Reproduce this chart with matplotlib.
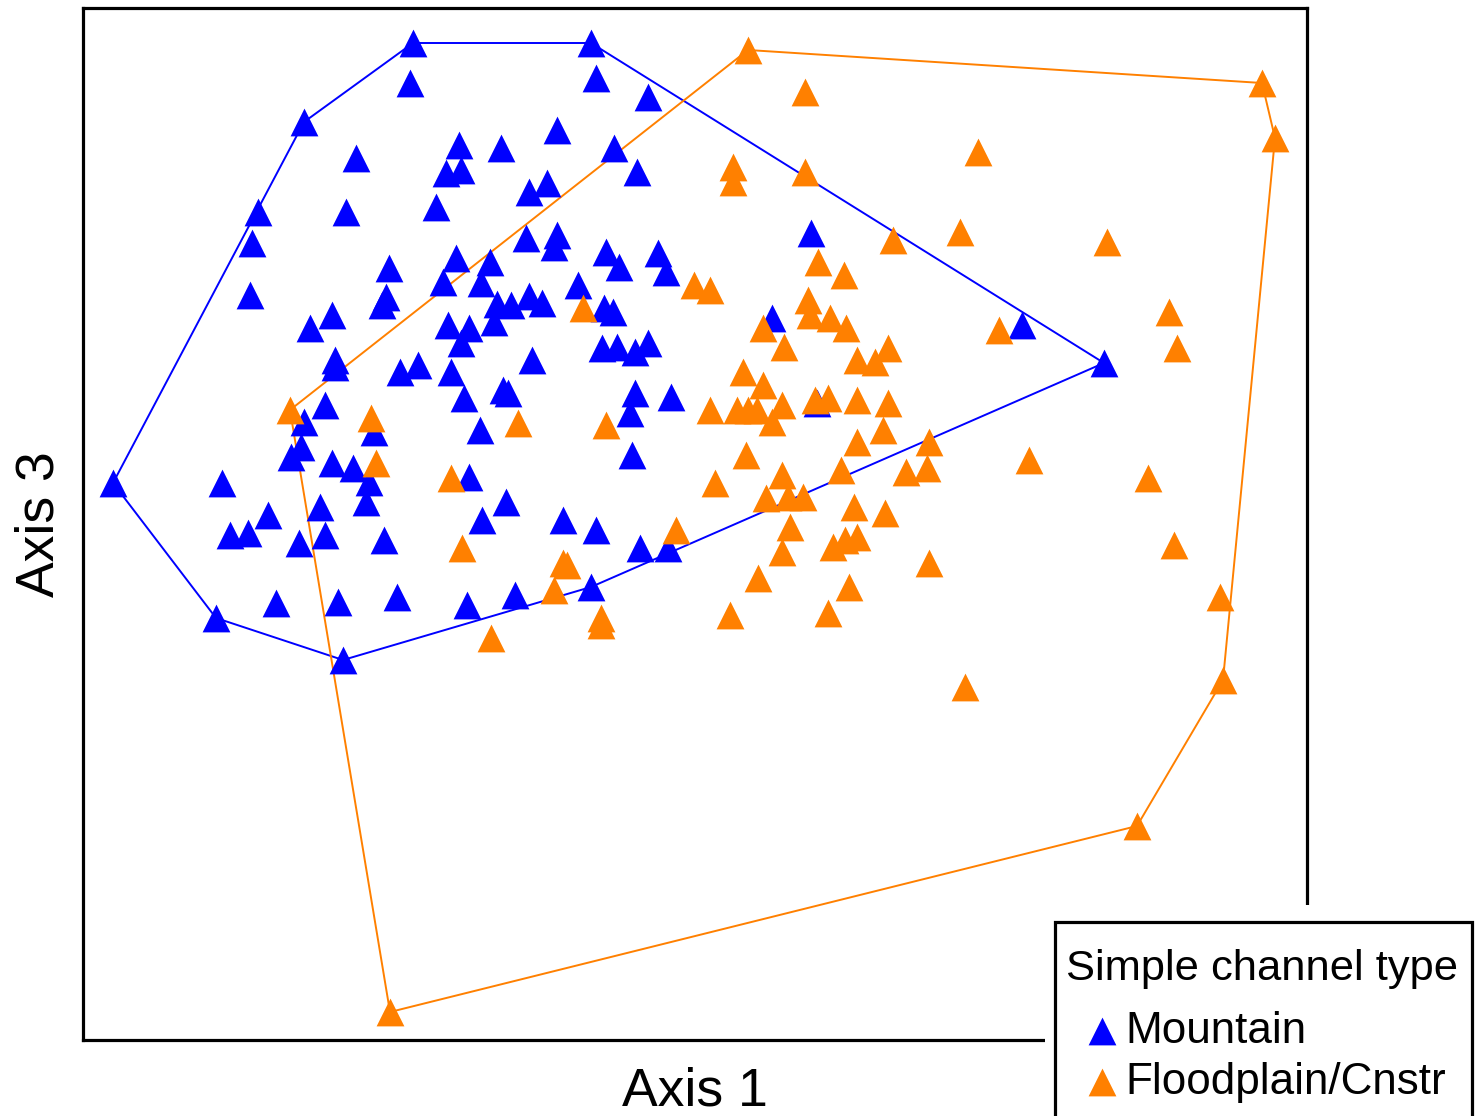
import numpy as np
import matplotlib
matplotlib.use("Agg")
import matplotlib.pyplot as plt
from matplotlib.patches import Rectangle

plt.rcParams['font.family'] = ['Liberation Sans', 'DejaVu Sans']

# ordination scores (axis 3 grows downward in these units)
mountain_ax1 = [413, 591, 410, 596, 648, 304, 557, 459, 501, 614, 356, 446, 461, 637, 529, 547,
                258, 436, 346, 252, 526, 557, 554, 811, 606, 658, 456, 490, 619, 666, 389, 443,
                481, 250, 386, 382, 578, 497, 511, 529, 542, 604, 613, 332, 310, 448, 469, 494,
                461, 772, 1022, 602, 617, 635, 648, 532, 335, 335, 400, 418, 451, 1104, 635, 671,
                503, 508, 464, 630, 325, 817, 304, 374, 480, 301, 291, 632, 332, 353, 369, 366,
                469, 113, 222, 506, 320, 268, 563, 482, 596, 230, 248, 325, 384, 299, 640, 668,
                591, 397, 338, 515, 276, 467, 216, 343]
mountain_ax3 = [43, 43, 83, 78, 97, 122, 130, 145, 148, 148, 158, 173, 170, 172, 192, 183,
                212, 207, 212, 243, 238, 235, 247, 233, 252, 253, 258, 262, 267, 272, 268, 282,
                283, 295, 297, 305, 285, 304, 305, 296, 303, 308, 312, 315, 328, 325, 328, 322,
                343, 318, 325, 348, 347, 352, 343, 360, 360, 367, 372, 365, 372, 363, 393, 397,
                390, 393, 398, 413, 405, 403, 422, 432, 430, 447, 457, 455, 463, 468, 482, 502,
                477, 483, 483, 502, 507, 515, 520, 520, 530, 535, 533, 535, 540, 543, 548, 548,
                587, 597, 602, 595, 603, 605, 618, 660]

flood_ax1 = [748, 805, 1262, 1275, 978, 733, 733, 805, 960, 1107, 893, 818, 844, 694, 710, 583,
             808, 810, 830, 846, 763, 784, 1169, 1177, 999, 857, 875, 888, 743, 763, 710, 737,
             748, 757, 772, 782, 815, 828, 857, 888, 518, 606, 371, 290, 883, 857, 746, 929,
             1029, 715, 782, 841, 906, 927, 1148, 451, 376, 766, 788, 803, 854, 885, 790, 676,
             782, 833, 845, 857, 1174, 929, 462, 563, 567, 554, 758, 849, 1220, 601, 601, 730,
             828, 491, 965, 1223, 1137, 390]
flood_ax3 = [50, 92, 83, 138, 152, 167, 182, 172, 232, 242, 240, 262, 275, 285, 290, 308,
             300, 315, 318, 328, 328, 347, 312, 348, 330, 360, 362, 348, 372, 385, 410, 410,
             410, 410, 422, 405, 400, 398, 400, 403, 423, 425, 418, 410, 430, 442, 455, 442,
             460, 483, 475, 470, 472, 468, 478, 478, 463, 498, 497, 497, 507, 513, 527, 530,
             552, 547, 540, 537, 545, 563, 548, 563, 565, 590, 578, 587, 597, 618, 625, 615,
             613, 638, 687, 680, 826, 1012]

groups = ['Mountain', 'Floodplain/Cnstr']
colors = ['#0000FF', '#FF8000']


def convex_hull(x, y):
    pts = sorted(set(zip(x, y)))

    def cross(o, a, b):
        return (a[0] - o[0]) * (b[1] - o[1]) - (a[1] - o[1]) * (b[0] - o[0])

    lower, upper = [], []
    for p in pts:
        while len(lower) >= 2 and cross(lower[-2], lower[-1], p) <= 0:
            lower.pop()
        lower.append(p)
    for p in reversed(pts):
        while len(upper) >= 2 and cross(upper[-2], upper[-1], p) <= 0:
            upper.pop()
        upper.append(p)
    hull = lower[:-1] + upper[:-1]
    hull.append(hull[0])
    return np.array(hull)


W, H = 1475, 1116
fig = plt.figure(figsize=(W / 100, H / 100), dpi=100)
ax = fig.add_axes([83 / W, 1 - 1040 / H, 1224 / W, 1032 / H])

data = [(mountain_ax1, mountain_ax3), (flood_ax1, flood_ax3)]
for (gx, gy), c in zip(data, colors):
    h = convex_hull(gx, gy)
    ax.plot(h[:, 0], h[:, 1], color=c, lw=1.4, zorder=2)

for (gx, gy), c, lab in zip(data, colors, groups):
    ax.scatter(gx, gy, marker='^', s=400, color=c, linewidths=0, label=lab, zorder=3)

ax.set_xlim(83, 1307)
ax.set_ylim(1040, 8)
ax.set_xticks([])
ax.set_yticks([])
for sp in ax.spines.values():
    sp.set_linewidth(2.3)
    sp.set_color('black')

ax.set_xlabel('Axis 1', fontsize=38.5, labelpad=19)
ax.set_ylabel('Axis 3', fontsize=38.5, labelpad=13)

# legend box: white margin, black frame running off the figure edge
fig.patches.append(Rectangle((1045 / W, -0.05), 0.5, (1116 - 905) / H + 0.05,
                             transform=fig.transFigure, facecolor='white',
                             edgecolor='none', zorder=1))
fig.patches.append(Rectangle((1055 / W, 1 - 1135 / H), (1472 - 1055) / W, (1135 - 922) / H,
                             transform=fig.transFigure, facecolor='white',
                             edgecolor='black', linewidth=2.3, zorder=2))
fig.text(1066 / W, 1 - 980 / H, 'Simple channel type', fontsize=31.3,
         ha='left', va='baseline')

handles, labels = ax.get_legend_handles_labels()
leg = fig.legend(handles, labels, loc='upper left',
                 bbox_to_anchor=(1080 / W, 1 - 1011 / H), bbox_transform=fig.transFigure,
                 borderaxespad=0, borderpad=0, fontsize=31.7, frameon=False,
                 handlelength=0.98, handletextpad=0.05, labelspacing=0.22,
                 scatterpoints=1)

fig.savefig('out.png', dpi=100)
